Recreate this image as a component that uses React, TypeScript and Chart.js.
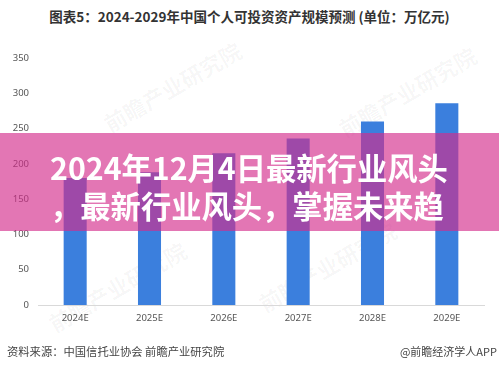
import React, { useEffect, useRef } from "react";
import { Chart, registerables } from "chart.js";

Chart.register(...registerables);

const titleText = "图表5：2024-2029年中国个人可投资资产规模预测 (单位：万亿元)";
const categories = ["2024E", "2025E", "2026E", "2027E", "2028E", "2029E"];
const values = [180, 188, 215, 236, 260, 286];
const yTicks = [0, 50, 100, 150, 200, 250, 300, 350];
const sourceText = "资料来源：中国信托业协会 前瞻产业研究院";
const brandText = "@前瞻经济学人APP";
const bannerLine1 = "2024年12月4日最新行业风头";
const bannerLine2 = "，最新行业风头，掌握未来趋";
const watermarks = ["前瞻产业研究院", "前瞻产业研究院", "前瞻产业研究院", "前瞻产业研究院"];

const CJK = '"Noto Sans CJK SC", sans-serif';

export default function App() {
  const ref = useRef<HTMLCanvasElement | null>(null);

  useEffect(() => {
    if (!ref.current) return;
    const chart = new Chart(ref.current, {
      type: "bar",
      data: {
        labels: categories,
        datasets: [
          {
            data: values,
            backgroundColor: "#3b7fdd",
            borderWidth: 0,
            categoryPercentage: 1,
            barPercentage: 0.31,
          },
        ],
      },
      options: {
        animation: false,
        responsive: false,
        maintainAspectRatio: false,
        layout: { padding: { top: 58, right: 15, bottom: 0, left: 0 } },
        plugins: { legend: { display: false }, tooltip: { enabled: false }, title: { display: false } },
        scales: {
          x: {
            grid: { display: false, drawTicks: false },
            border: { display: true, color: "#d9d9d9", width: 1 },
            ticks: { color: "#555", font: { family: "Noto Sans", size: 9.5 }, padding: 8, maxRotation: 0 },
            afterFit: (s: any) => { s.height = 64; },
          },
          y: {
            min: 0,
            max: 350,
            grid: { display: false, drawTicks: false },
            border: { display: false },
            ticks: { color: "#555", font: { family: "Noto Sans", size: 9.5 }, padding: 9 },
            afterBuildTicks: (s: any) => { s.ticks = yTicks.map((v) => ({ value: v })); },
            afterFit: (s: any) => { s.width = 38; },
          },
        },
      },
    });
    return () => chart.destroy();
  }, []);

  const wmPos = [
    { left: 95, top: 70 },
    { left: 330, top: 75 },
    { left: 40, top: 270 },
    { left: 250, top: 250 },
  ];

  const bannerText: React.CSSProperties = {
    position: "absolute",
    fontFamily: CJK,
    fontWeight: 700,
    fontSize: 30.3,
    lineHeight: "38px",
    height: 38,
    color: "#fff",
    whiteSpace: "nowrap",
    textAlign: "left",
  };

  return (
    <div style={{ position: "fixed", left: 0, top: 0, width: 499, height: 369, background: "#fff", overflow: "hidden" }}>
      {watermarks.map((w, i) => (
        <div
          key={i}
          style={{
            position: "absolute",
            left: wmPos[i].left,
            top: wmPos[i].top,
            transform: "rotate(-30deg)",
            fontFamily: CJK,
            fontWeight: 700,
            fontSize: 22,
            color: "rgba(0,0,0,0.04)",
            whiteSpace: "nowrap",
          }}
        >
          {w}
        </div>
      ))}
      <div
        style={{
          position: "absolute",
          left: 0,
          top: 7,
          width: 499,
          textAlign: "center",
          fontFamily: CJK,
          fontWeight: 700,
          fontSize: 13.5,
          lineHeight: "18px",
          color: "#333",
          whiteSpace: "nowrap",
        }}
      >
        {titleText}
      </div>
      <canvas ref={ref} width={499} height={369} style={{ position: "absolute", left: 0, top: 0, width: 499, height: 369 }} />
      <div
        style={{
          position: "absolute",
          left: 0,
          top: 133,
          width: 499,
          height: 98,
          background: "rgba(212,45,140,0.65)",
        }}
      />
      <div style={{ ...bannerText, left: 50, top: 148 }}>{bannerLine1}</div>
      <div style={{ ...bannerText, left: 50, top: 186 }}>{bannerLine2}</div>
      <div
        style={{
          position: "absolute",
          left: 7,
          top: 343,
          fontFamily: CJK,
          fontSize: 11.3,
          lineHeight: "16px",
          color: "#444",
          whiteSpace: "nowrap",
        }}
      >
        {sourceText}
      </div>
      <div
        style={{
          position: "absolute",
          right: 2,
          top: 343,
          fontFamily: CJK,
          fontSize: 11,
          lineHeight: "16px",
          color: "#444",
          whiteSpace: "nowrap",
        }}
      >
        {brandText}
      </div>
    </div>
  );
}
